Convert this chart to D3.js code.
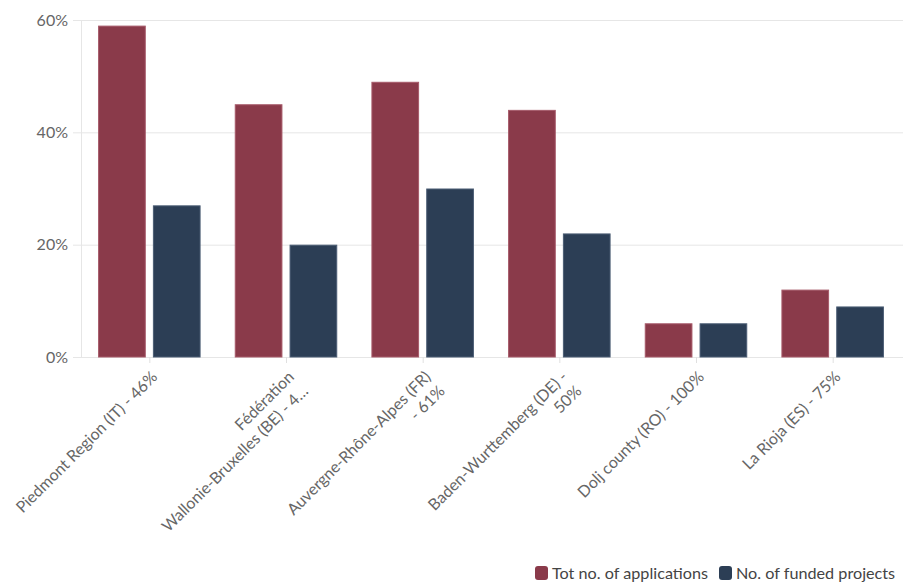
<!DOCTYPE html>
<html>
<head>
<meta charset="utf-8">
<script src="https://cdn.jsdelivr.net/npm/d3@7"></script>
<style>
  html, body { margin: 0; padding: 0; background: #fff; }
  svg { display: block; font-family: "Lato", "Noto Sans", sans-serif; }
</style>
</head>
<body>
<svg id="chart" width="907" height="583"></svg>
<script>
// Regions, each label split into its display lines
const categories = [
  ["Piedmont Region (IT) - 46%"],
  ["Fédération", "Wallonie-Bruxelles (BE) - 4…"],
  ["Auvergne-Rhône-Alpes (FR)", "- 61%"],
  ["Baden-Wurttemberg (DE) -", "50%"],
  ["Dolj county (RO) - 100%"],
  ["La Rioja (ES) - 75%"]
];
const seriesNames = ["Tot no. of applications", "No. of funded projects"];
const applications = [59, 45, 49, 44, 6, 12];
const funded = [27, 20, 30, 22, 6, 9];
const yTicks = [0, 20, 40, 60];

const colors = ["#8a3a4a", "#2c3e55"];
const strokes = ["#a65a69", "#4b5d74"];

const svg = d3.select("#chart");
const margin = { left: 81, right: 6, top: 20, bottom: 226 };
const W = 907, H = 583;
const plotBottom = H - margin.bottom;

const ids = categories.map((c, i) => i);
const x0 = d3.scaleBand().domain(ids).range([margin.left, W - margin.right])
  .paddingInner(0.25).paddingOuter(0.125);
const x1 = d3.scaleBand().domain([0, 1]).range([0, x0.bandwidth()]).paddingInner(0.13);
const y = d3.scaleLinear().domain([0, 60]).range([plotBottom, margin.top]);

// Horizontal gridlines with y tick labels
const yAxis = d3.axisLeft(y).tickValues(yTicks).tickFormat(d => d + "%")
  .tickSize(0).tickPadding(5);
const gy = svg.append("g").attr("transform", `translate(${margin.left - 8},0)`).call(yAxis);
gy.select(".domain").remove();
gy.selectAll(".tick line").attr("stroke", "#e6e6e6").attr("x2", W - margin.right - margin.left + 10);
gy.selectAll(".tick text").attr("fill", "#666").attr("font-size", 16)
  .attr("font-family", "Lato, 'Noto Sans', sans-serif");

// Vertical axis line
svg.append("line")
  .attr("x1", margin.left + 0.5).attr("x2", margin.left + 0.5)
  .attr("y1", y(60)).attr("y2", plotBottom)
  .attr("stroke", "#e6e6e6");

// Category axis ticks
const xAxis = d3.axisBottom(d3.scalePoint().domain(ids)
  .range([x0(0) + x0.bandwidth() / 2, x0(ids.length - 1) + x0.bandwidth() / 2]))
  .tickSize(6).tickFormat("");
const gx = svg.append("g").attr("transform", `translate(0,${plotBottom})`).call(xAxis);
gx.select(".domain").remove();
gx.selectAll(".tick line").attr("stroke", "#e0e0e0");

// Grouped bars
const seriesValues = [applications, funded];
const groups = svg.append("g").selectAll("g").data(ids).join("g")
  .attr("transform", i => `translate(${x0(i)},0)`);
groups.selectAll("rect")
  .data(i => seriesValues.map((vals, s) => ({ s, v: vals[i] })))
  .join("rect")
  .attr("x", d => x1(d.s) + 0.5)
  .attr("width", x1.bandwidth() - 1)
  .attr("y", d => y(d.v) + 0.5)
  .attr("height", d => plotBottom - y(d.v) - 0.5)
  .attr("fill", d => colors[d.s])
  .attr("stroke", d => strokes[d.s])
  .attr("stroke-width", 1);

// Rotated category labels
const labels = svg.append("g").selectAll("text").data(ids).join("text")
  .attr("transform", i => `translate(${x0(i) + x0.bandwidth() / 2 + 9},${plotBottom + 21}) rotate(-45)`)
  .attr("text-anchor", "end")
  .attr("fill", "#666")
  .attr("font-size", 16);
labels.selectAll("tspan").data(i => categories[i]).join("tspan")
  .attr("x", 0)
  .attr("dy", (d, k) => k === 0 ? 0 : "1.25em")
  .text(d => d);

// Legend
const legend = svg.append("g").attr("font-size", 16.2).attr("fill", "#444");
const legendItems = [
  { x: 535, name: seriesNames[0], color: colors[0] },
  { x: 719, name: seriesNames[1], color: colors[1] }
];
legendItems.forEach(item => {
  legend.append("rect").attr("x", item.x).attr("y", 566).attr("width", 13).attr("height", 14)
    .attr("rx", 3).attr("fill", item.color);
  legend.append("text").attr("x", item.x + 17).attr("y", 579).text(item.name);
});
</script>
</body>
</html>
